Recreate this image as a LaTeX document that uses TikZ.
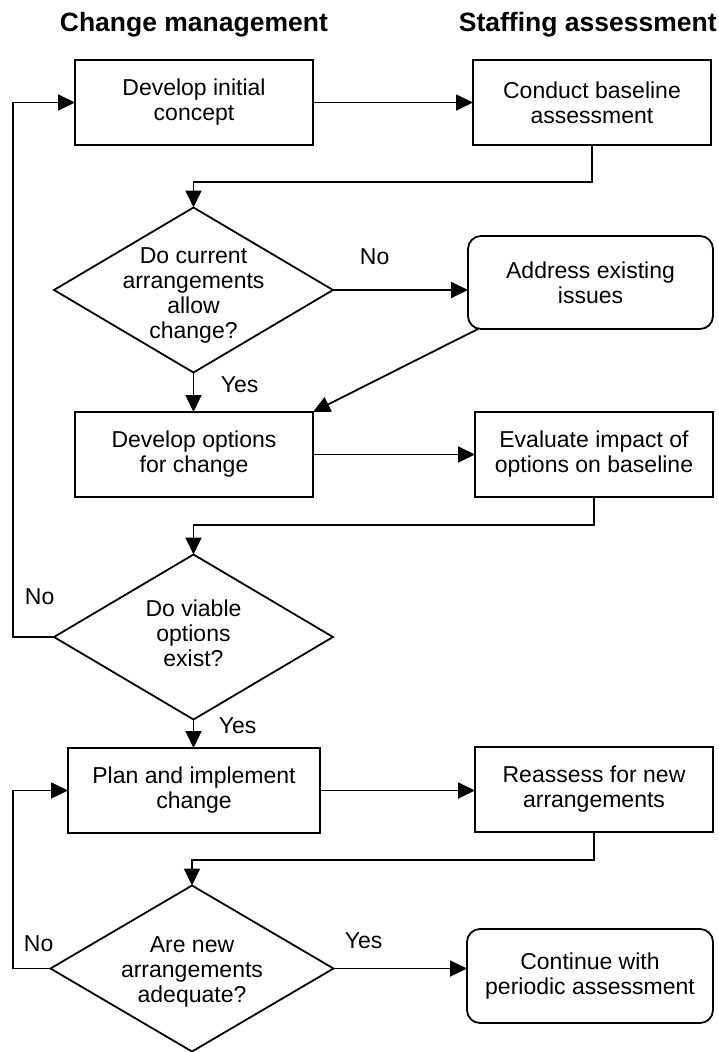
\documentclass[tikz,border=0pt]{standalone}
\usepackage{fontspec}
\setmainfont{Liberation Sans}
\usetikzlibrary{arrows.meta,shapes.geometric}
\newcommand{\myBody}{\fontsize{23}{25}\selectfont}
\newcommand{\myTitle}{\fontsize{26.5}{28}\selectfont\bfseries}
\begin{document}
\begin{tikzpicture}[x=1pt,y=-1pt,line width=1.8pt,
  box/.style={draw, rectangle, minimum width=238pt, minimum height=85pt, inner sep=0pt, outer sep=0pt, align=center, font=\myBody},
  rbox/.style={box, rounded corners=13pt},
  dia/.style={draw, diamond, inner sep=0pt, outer sep=0pt, minimum width=279pt, minimum height=165pt},
  txt/.style={align=center, inner sep=0pt, font=\myBody},
  lab/.style={inner sep=0pt, anchor=base west, font=\myBody},
  ttl/.style={inner sep=0pt, anchor=base west, font=\myTitle},
  arr/.style={-{Triangle[length=17pt,width=16pt]}, line width=1.8pt}]
\useasboundingbox (0,0) rectangle (719,1052);
% titles
\node[ttl] (t1) at (59,31.5) {Change management};
\node[ttl] (t2) at (458,31.5) {Staffing assessment};
% nodes
\node[box] (b1) at (194,102.5) {Develop initial\\concept};
\node[box] (b2) at (592,102.5) {Conduct baseline\\assessment};
\node[dia] (d1) at (193.5,290) {};
\node[txt] (d1t) at (193.5,295) {Do current\\arrangements\\allow\\change?};
\node[rbox, minimum width=245pt, minimum height=93pt] (a1) at (590.5,282.5) {Address existing\\issues};
\node[box] (b3) at (194,454.5) {Develop options\\for change};
\node[box] (b4) at (594,454.5) {Evaluate impact of\\options on baseline};
\node[dia] (d2) at (193.5,637) {};
\node[txt] (d2t) at (193.5,633) {Do viable\\options\\exist?};
\node[box, minimum width=252pt] (b5) at (194,790.5) {Plan and implement\\change};
\node[box] (b6) at (594,789.5) {Reassess for new\\arrangements};
\node[dia, minimum width=283pt, minimum height=166pt] (d3) at (192,968.5) {};
\node[txt] (d3t) at (192,972) {Are new\\arrangements\\adequate?};
\node[rbox, minimum width=246pt, minimum height=94pt] (b7) at (590,976) {Continue with\\periodic assessment};
% labels
\node[lab] (l1) at (359,264) {No};
\node[lab] (l2) at (220,392.7) {Yes};
\node[lab] (l3) at (24,604) {No};
\node[lab] (l4) at (218,733) {Yes};
\node[lab] (l5) at (23,951) {No};
\node[lab] (l6) at (344,948) {Yes};
% connectors
\draw[arr] (b1.east) -- (b2.west);
\draw[arr] (b2.south) -- ++(0,37) -| (d1.north);
\draw[arr] (d1.east) -- (d1.east -| a1.west);
\draw[arr] (d1.south) -- (d1.south |- b3.north);
\draw[arr] ([xshift=10pt]a1.south west) -- (b3.north east);
\draw[arr] (b3.east) -- (b4.west);
\draw[arr] (b4.south) -- ++(0,28) -| (d2.north);
\draw[arr] (d2.west) -- ++(-41,0) |- (b1.west);
\draw[arr] (d2.south) -- (d2.south |- b5.north);
\draw[arr] (b5.east) -- (b5.east -| b6.west);
\draw[arr] (b6.south) -- ++(0,28) -| (d3.north);
\draw[arr] (d3.west) -- ++(-37.5,0) |- (b5.west);
\draw[arr] (d3.east) -- (d3.east -| b7.west);
\end{tikzpicture}
\end{document}
